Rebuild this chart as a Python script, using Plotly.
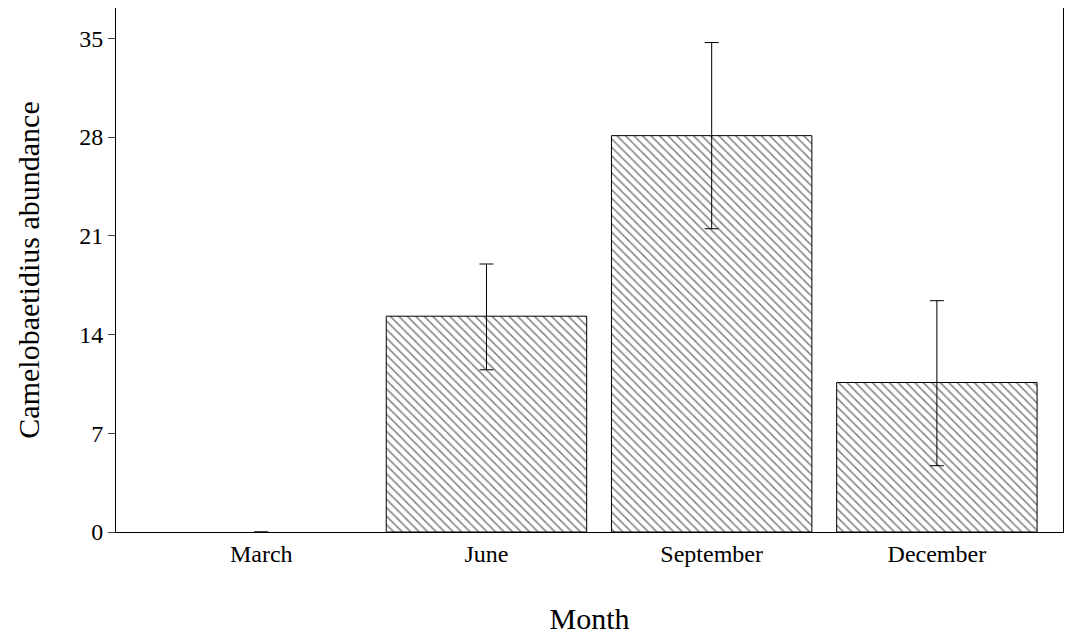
import plotly.graph_objects as go

months = ["March", "June", "September", "December"]
means = [0, 15.3, 28.1, 10.6]
err_plus = [None, 3.7, 6.6, 5.8]
err_minus = [None, 3.8, 6.6, 5.9]

fig = go.Figure(go.Bar(
    x=months, y=means,
    marker=dict(color="white", line=dict(color="black", width=[0, 1, 1, 1]),
                opacity=[0, 1, 1, 1],
                pattern=dict(shape="\\", fgcolor="black", bgcolor="white", size=6, solidity=0.25)),
    error_y=dict(type="data", symmetric=False, array=err_plus, arrayminus=err_minus,
                 color="black", thickness=1, width=7),
))
fig.update_layout(
    width=1069, height=633, plot_bgcolor="white", paper_bgcolor="white",
    margin=dict(l=108, r=14, t=0, b=109), bargap=0.11, showlegend=False,
    font=dict(family="Liberation Serif", size=25, color="black"),
)
fig.update_xaxes(range=[-0.645, 3.56], showline=True, linecolor="black", mirror=True,
                 ticks="", tickfont=dict(size=24), title=dict(text="Month", standoff=42))
fig.update_yaxes(range=[0, 37.15], tickvals=[0, 7, 14, 21, 28, 35], showline=True,
                 linecolor="black", mirror=True, ticks="outside", ticklen=7,
                 tickfont=dict(size=24), showgrid=False, zeroline=False,
                 title=dict(text="Camelobaetidius abundance", standoff=30))
fig.write_html("out.html")
